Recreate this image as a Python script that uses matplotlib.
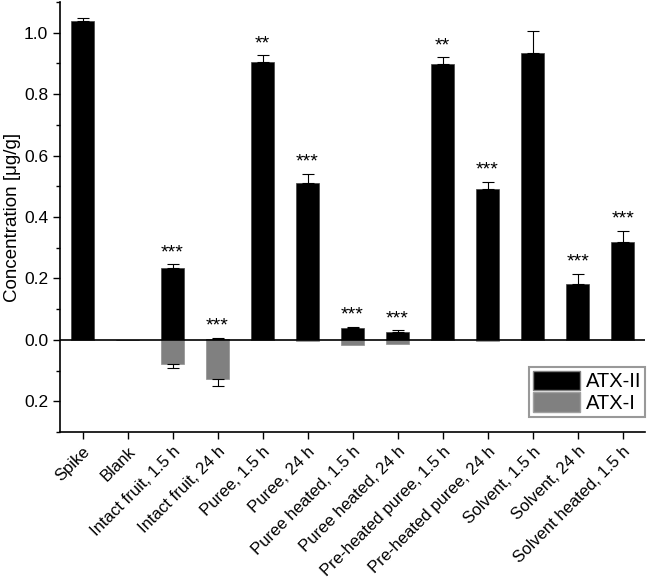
import numpy as np
import matplotlib
matplotlib.use("Agg")
import matplotlib.pyplot as plt
from matplotlib.ticker import MultipleLocator, FuncFormatter
from matplotlib.patches import Patch

plt.rcParams['font.family'] = ['Liberation Sans', 'DejaVu Sans']

samples = ['Spike', 'Blank', 'Intact fruit, 1.5 h', 'Intact fruit, 24 h', 'Puree, 1.5 h',
           'Puree, 24 h', 'Puree heated, 1.5 h', 'Puree heated, 24 h', 'Pre-heated puree, 1.5 h',
           'Pre-heated puree, 24 h', 'Solvent, 1.5 h', 'Solvent, 24 h', 'Solvent heated, 1.5 h']

# ATX-II concentrations (ug/g) and standard deviations
atx2 = [1.038, 0.0, 0.233, 0.004, 0.906, 0.510, 0.040, 0.025, 0.899, 0.491, 0.933, 0.183, 0.317]
atx2_err = [0.009, 0.0, 0.013, 0.002, 0.020, 0.030, 0.002, 0.006, 0.021, 0.023, 0.071, 0.032, 0.038]

# ATX-I concentrations (drawn downwards)
atx1 = [0.0, 0.0, 0.078, 0.128, 0.0, 0.004, 0.016, 0.014, 0.0, 0.004, 0.0, 0.0, 0.0]
atx1_err = [0.0, 0.0, 0.015, 0.021, 0.0, 0.0, 0.0, 0.0, 0.0, 0.0, 0.0, 0.0, 0.0]

stars = ['', '', '***', '***', '**', '***', '***', '***', '**', '***', '', '***', '***']

fig = plt.figure(figsize=(6.49, 5.82), dpi=100)
ax = fig.add_axes([0.0925, 0.2577, 0.9015, 0.739])

x = np.arange(len(samples))
a2 = np.array(atx2)
a2e = np.array(atx2_err)
a1 = -np.array(atx1)
a1e = np.array(atx1_err)

ax.bar(x, a2, width=0.5, color='black', edgecolor='#404040', linewidth=0.5, zorder=2)
ax.bar(x, a1, width=0.5, color='#808080', edgecolor='#909090', linewidth=0.5, zorder=2)

# one-sided error bars, only where there is an error
m = a2e > 0
ax.errorbar(x[m], a2[m], yerr=[np.zeros(m.sum()), a2e[m]], fmt='none', ecolor='black',
            elinewidth=0.8, capsize=4, capthick=0.8, zorder=3)
m = a1e > 0
ax.errorbar(x[m], a1[m], yerr=[a1e[m], np.zeros(m.sum())], fmt='none', ecolor='black',
            elinewidth=0.8, capsize=4, capthick=0.8, zorder=3)

# significance stars above the error bars
for i, s in enumerate(stars):
    if s:
        ax.text(x[i], a2[i] + a2e[i] + 0.01, s, ha='center', va='bottom', fontsize=14)

ax.axhline(0, color='black', linewidth=1.2, zorder=4)

ax.set_xlim(-0.5, 12.5)
ax.set_ylim(-0.3, 1.1)
ax.yaxis.set_major_locator(MultipleLocator(0.2))
ax.yaxis.set_minor_locator(MultipleLocator(0.1))
ax.yaxis.set_major_formatter(FuncFormatter(lambda v, p: '%.1f' % abs(v)))
ax.set_xticks(x)
ax.set_xticklabels(samples, rotation=45, ha='right', rotation_mode='anchor', fontsize=12)
ax.tick_params(axis='y', labelsize=12.5, length=5, width=1.0)
ax.tick_params(axis='y', which='minor', length=3, width=1.0)
ax.tick_params(axis='x', length=5, width=1.0)
ax.set_ylabel('Concentration [μg/g]', fontsize=13.5, labelpad=2)

for side in ['top', 'right']:
    ax.spines[side].set_visible(False)
for side in ['left', 'bottom']:
    ax.spines[side].set_linewidth(1.2)

handles = [Patch(facecolor='black', edgecolor='#808080', label='ATX-II'),
           Patch(facecolor='#808080', edgecolor='#a0a0a0', label='ATX-I')]
leg = ax.legend(handles=handles, loc='lower right', bbox_to_anchor=(1.0, 0.035), fontsize=14.5,
                frameon=True, fancybox=False, handlelength=2.3, handleheight=1.1,
                labelspacing=0.05, handletextpad=0.3, borderpad=0.2, borderaxespad=0.0)
leg.get_frame().set_edgecolor('#808080')
leg.get_frame().set_linewidth(1.5)

fig.savefig('out.png', dpi=100)
